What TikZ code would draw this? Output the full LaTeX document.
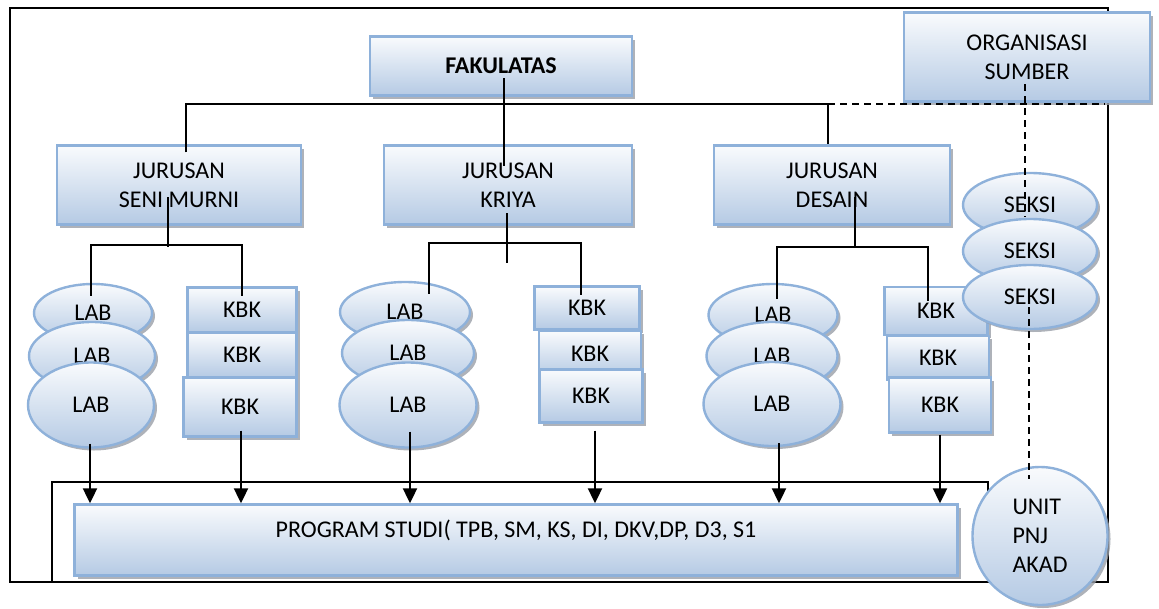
\documentclass[tikz,border=0pt]{standalone}
\usepackage{fontspec}
\setmainfont{Carlito}
\usepackage{tikz}
\usetikzlibrary{arrows.meta,calc,shapes.geometric,shadows}
\definecolor{ink}{HTML}{000000}
\definecolor{edge}{HTML}{8EB1DA}
\definecolor{sky}{HTML}{B5CAE4}
\definecolor{shade}{HTML}{9A9FA8}
\newcommand{\bigtxt}{\fontsize{24}{29}\selectfont}
\tikzset{
  unitbox/.style={draw=edge,line width=2.4pt,top color=sky!8,bottom color=sky,drop shadow={shadow xshift=3pt,shadow yshift=-3pt,fill=shade,opacity=.8},inner sep=2pt,font=\bigtxt,align=center},
  labell/.style={unitbox,ellipse},
  frame/.style={draw=ink,line width=1.8pt,inner sep=0pt},
  link/.style={draw=ink,line width=2.1pt},
  arr/.style={link,-{Triangle[length=15pt,width=14pt]}},
  dashln/.style={link,dash pattern=on 7pt off 5pt},
}
\begin{document}
\begin{tikzpicture}[x=1pt,y=-1pt]
  \useasboundingbox (0,0) rectangle (1159,608);
  % frames
  \node[frame,minimum width=1098,minimum height=574] (outer) at (559,295) {};
  \node[frame,minimum width=936,minimum height=100] (inner) at (520,532) {};
  \node[unitbox,minimum width=883,minimum height=71,text height=17pt,text depth=22pt] (prodi) at (516,540) {PROGRAM STUDI( TPB, SM, KS, DI, DKV,DP, D3, S1};
  % fakultas and jurusan
  \node[unitbox,minimum width=262,minimum height=59,font=\bigtxt\bfseries] (fak) at (501,66) {FAKULATAS};
  \node[unitbox,minimum width=246,minimum height=89] (org) at (1027,57) {ORGANISASI\\SUMBER};
  \node[unitbox,minimum width=244,minimum height=79] (jsm) at (179,185) {JURUSAN\\SENI MURNI};
  \node[unitbox,minimum width=248,minimum height=79] (jkr) at (508,185) {JURUSAN\\KRIYA};
  \node[unitbox,minimum width=236,minimum height=79] (jds) at (832,185) {JURUSAN\\DESAIN};
  % seni murni
  \node[labell,minimum width=118,minimum height=58] (lab11) at (93,313) {LAB};
  \node[labell,minimum width=126,minimum height=68] (lab12) at (92,356) {LAB};
  \node[labell,minimum width=126,minimum height=85] (lab13) at (91,405) {LAB};
  \node[unitbox,minimum width=109,minimum height=45] (kbk11) at (242,310) {KBK};
  \node[unitbox,minimum width=109,minimum height=45] (kbk12) at (242,355) {KBK};
  \node[unitbox,minimum width=113,minimum height=59] (kbk13) at (240,407) {KBK};
  % kriya
  \node[labell,minimum width=130,minimum height=60] (lab21) at (405,312) {LAB};
  \node[labell,minimum width=132,minimum height=66] (lab22) at (408,353) {LAB};
  \node[labell,minimum width=137,minimum height=85] (lab23) at (408,405) {LAB};
  \node[unitbox,minimum width=105,minimum height=43] (kbk21) at (587,308) {KBK};
  \node[unitbox,minimum width=102,minimum height=46] (kbk22) at (590,354) {KBK};
  \node[unitbox,minimum width=103,minimum height=53] (kbk23) at (591,396) {KBK};
  % desain
  \node[labell,minimum width=129,minimum height=62] (lab31) at (773,315) {LAB};
  \node[labell,minimum width=131,minimum height=68] (lab32) at (772,356) {LAB};
  \node[labell,minimum width=137,minimum height=84] (lab33) at (772,404) {LAB};
  \node[unitbox,minimum width=103,minimum height=48] (kbk31) at (936,311) {KBK};
  \node[unitbox,minimum width=102,minimum height=44] (kbk32) at (938,358) {KBK};
  \node[unitbox,minimum width=102,minimum height=55] (kbk33) at (940,405) {KBK};
  % seksi and unit
  \node[labell,minimum width=134,minimum height=64] (seksi1) at (1030,205) {SEKSI};
  \node[labell,minimum width=134,minimum height=64] (seksi2) at (1030,251) {SEKSI};
  \node[labell,minimum width=134,minimum height=64] (seksi3) at (1030,297) {SEKSI};
  \node[labell,minimum width=135,minimum height=138,align=left] (unit) at (1040,536) {UNIT\\PNJ\\AKAD};
  % lines
  \draw[link] ($(fak.center)+(3,12)$) -- ($(jkr.north)+(-4,22)$);
  \draw[link] ($(jsm.north)+(7,8)$) |- ($(jds.north)+(-4,-40)$) -- ($(jds.north)+(-4,0)$);
  \draw[dashln] ($(jds.north)+(-4,-40)$) -- ($(outer.east |- jds.north)+(-4,-40)$);
  \draw[link] ($(jsm.center)+(-11,12)$) -- ($(jsm.center)+(-11,62)$);
  \draw[link] ($(lab11.north)+(-2,13)$) |- ($(kbk11.north)+(0,-41)$) -- ($(kbk11.north)+(0,10)$);
  \draw[link] ($(jkr.center)+(-1,28)$) -- ($(jkr.center)+(-1,78)$);
  \draw[link] ($(lab21.north)+(24,13)$) |- ($(kbk21.north)+(-6,-42)$) -- ($(kbk21.north)+(-6,10)$);
  \draw[link] ($(jds.center)+(23,12)$) -- ($(jds.center)+(23,63)$);
  \draw[link] ($(lab31.north)+(4,16)$) |- ($(kbk31.north)+(-8,-39)$) -- ($(kbk31.north)+(-8,15)$);
  \draw[dashln] ($(org.center)+(-2,27)$) -- ($(seksi1.center)+(-5,12)$);
  \draw[dashln] ($(seksi3.center)+(-1,10)$) -- ($(unit.north)+(-11,13)$);
  \foreach \n/\dx/\dy in {lab13/-1/-5,kbk13/1/-7,lab23/2/-17,kbk23/4/7,lab33/7/-4,kbk33/0/1}
    \draw[arr] ($(\n.south)+(\dx,\dy)$) coordinate (s) -- (s |- prodi.north);
\end{tikzpicture}
\end{document}
